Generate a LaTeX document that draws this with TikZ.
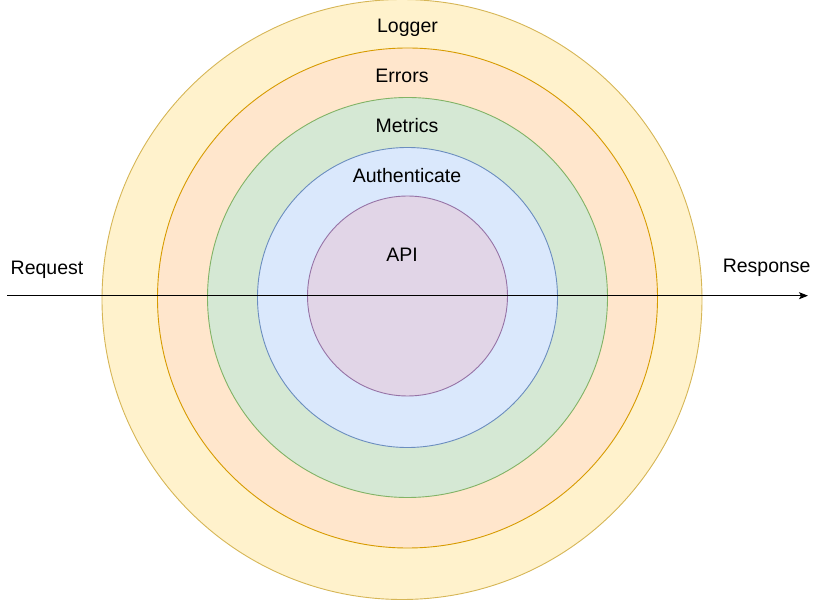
\documentclass[tikz,border=0pt]{standalone}
\usepackage{fontspec}
\setmainfont{Liberation Sans}
\usepackage{xcolor}
\usetikzlibrary{arrows.meta,positioning}

\definecolor{logfill}{HTML}{FFF2CC}\definecolor{logline}{HTML}{D6B656}
\definecolor{errfill}{HTML}{FFE6CC}\definecolor{errline}{HTML}{D79B00}
\definecolor{metfill}{HTML}{D5E8D4}\definecolor{metline}{HTML}{82B366}
\definecolor{autfill}{HTML}{DAE8FC}\definecolor{autline}{HTML}{6C8EBF}
\definecolor{apifill}{HTML}{E1D5E7}\definecolor{apiline}{HTML}{9673A6}

\begin{document}
\begin{tikzpicture}[x=1pt,y=-1pt,
	ring/.style={circle,inner sep=0pt,line width=0.9pt},
	lbl/.style={anchor=base,inner sep=0pt,font=\fontsize{19.5}{23}\selectfont}]
	\useasboundingbox (0,0) rectangle (823,601);
	%
	% layers
	\node[ring,draw=logline,fill=logfill,minimum size=600pt] (logger) at (402,299.5) {};
	\node[ring,draw=errline,fill=errfill,minimum size=500pt] (errors) at (407.5,298) {};
	\node[ring,draw=metline,fill=metfill,minimum size=400pt] (metrics) at (407.5,297.5) {};
	\node[ring,draw=autline,fill=autfill,minimum size=300pt] (auth) at (407.5,297.5) {};
	\node[ring,draw=apiline,fill=apifill,minimum size=200pt] (api) at (407.5,296) {};
	%
	% request / response
	\coordinate (req) at (7,295.7);
	\coordinate (resp) at (808,295.7);
	\draw[line width=1pt,-{Stealth[length=9pt,width=7pt,inset=2pt]}] (req) -- (resp);
	%
	% labels
	\node[lbl] (loggerlbl) at (407.5,32.3) {Logger};
	\node[lbl] (errorslbl) at (402,82.3) {Errors};
	\node[lbl] (metricslbl) at (407,132.3) {Metrics};
	\node[lbl] (authlbl) at (407,182.3) {Authenticate};
	\node[lbl] (apilbl) at (402,261.7) {API};
	\node[lbl] (reqlbl) at (47,275) {Request};
	\node[lbl] (resplbl) at (766.7,272.3) {Response};
\end{tikzpicture}
\end{document}
